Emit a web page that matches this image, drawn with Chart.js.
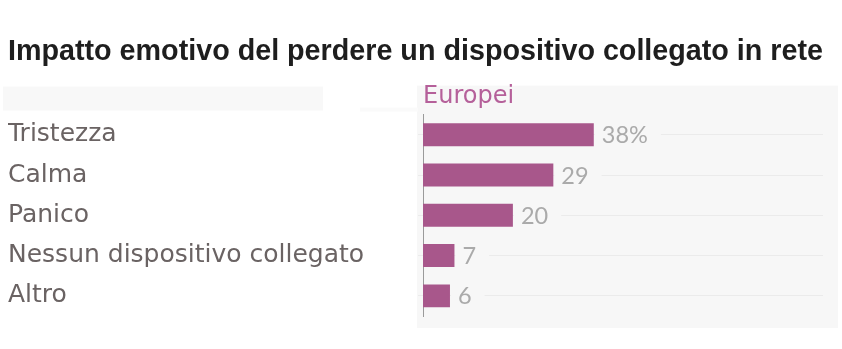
<!DOCTYPE html>
<html>
<head>
<meta charset="utf-8">
<script src="https://cdn.jsdelivr.net/npm/chart.js@4.4.1/dist/chart.umd.min.js"></script>
<style>
  html, body { margin: 0; padding: 0; background: #ffffff; }
  #wrap { width: 842px; height: 349px; position: relative; }
</style>
</head>
<body>
<div id="wrap"><canvas id="chart"></canvas></div>
<script>
// Dati
const titolo = "Impatto emotivo del perdere un dispositivo collegato in rete";
const serieNome = "Europei";
const categorie = ["Tristezza", "Calma", "Panico", "Nessun dispositivo collegato", "Altro"];
const valori = [38, 29, 20, 7, 6];
const etichette = ["38%", "29", "20", "7", "6"];

// Colori
const coloreBarre = "#a8578b";
const colorePannello = "#f7f7f7";

// Sfondo grigio dietro il grafico
const pannello = {
  id: "pannello",
  beforeDraw(chart) {
    const { ctx, chartArea } = chart;
    ctx.save();
    ctx.fillStyle = colorePannello;
    ctx.fillRect(chartArea.left - 6, chartArea.top - 29, chartArea.right - chartArea.left + 21, chartArea.bottom - chartArea.top + 41);
    // banda chiara in alto a sinistra
    ctx.fillStyle = "#f8f8f8";
    ctx.fillRect(3, chartArea.top - 28, 320, 24);
    ctx.fillStyle = "#fafafa";
    ctx.fillRect(360, chartArea.top - 7, 58, 4);
    ctx.restore();
  },
};

// Etichette dei valori accanto alle barre
const etichetteValori = {
  id: "etichetteValori",
  afterDatasetsDraw(chart) {
    const { ctx } = chart;
    const meta = chart.getDatasetMeta(0);
    ctx.save();
    ctx.font = "23.5px Lato";
    ctx.textBaseline = "middle";
    ctx.textAlign = "left";
    meta.data.forEach((bar, i) => {
      const testo = etichette[i];
      const w = ctx.measureText(testo).width;
      ctx.fillStyle = colorePannello;
      ctx.fillRect(bar.x + 1, bar.y - 4, w + 20, 8);
      ctx.fillStyle = "#aaaaaa";
      ctx.fillText(testo, bar.x + 8, bar.y + 1);
    });
    ctx.restore();
  },
};

const ctx = document.getElementById("chart").getContext("2d");
new Chart(ctx, {
  type: "bar",
  data: {
    labels: categorie,
    datasets: [
      {
        label: serieNome,
        data: valori,
        backgroundColor: coloreBarre,
        barPercentage: 0.57,
        categoryPercentage: 1,
      },
    ],
  },
  options: {
    indexAxis: "y",
    responsive: true,
    maintainAspectRatio: false,
    animation: false,
    layout: { padding: { left: 8, right: 19, top: 0, bottom: 33 } },
    plugins: {
      legend: { display: false },
      tooltip: { enabled: false },
      title: {
        display: true,
        text: titolo,
        align: "start",
        color: "#1e1e1e",
        font: { family: "Liberation Sans", size: 29, weight: "bold" },
        padding: { top: 35, bottom: 13 },
      },
    },
    scales: {
      x: {
        position: "top",
        min: 0,
        max: 89,
        grid: { display: false, drawTicks: false },
        border: { display: false },
        ticks: { display: false },
        title: {
          display: true,
          text: serieNome,
          align: "start",
          color: "#b5609a",
          font: { family: "DejaVu Sans", size: 24 },
          padding: { top: 0, bottom: 3 },
        },
      },
      y: {
        position: "left",
        grid: { offset: false, color: "#ebebeb", lineWidth: 1, tickLength: 5 },
        border: { display: true, color: "#9a9a9a", width: 1 },
        ticks: {
          crossAlign: "far",
          color: "#6a6363",
          font: { family: "DejaVu Sans", size: 25 },
        },
        afterFit(scale) {
          scale.width = 415;
        },
      },
    },
  },
  plugins: [pannello, etichetteValori],
});
</script>
</body>
</html>
